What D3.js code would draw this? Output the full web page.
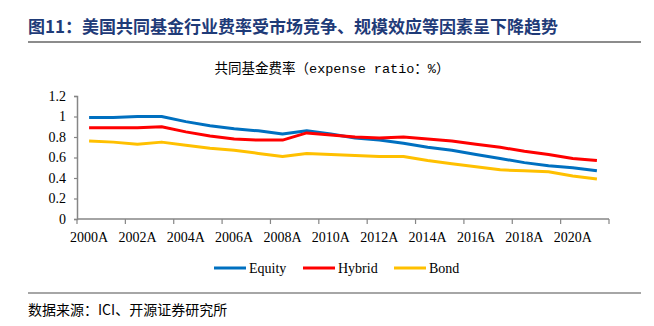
<!DOCTYPE html>
<html>
<head>
<meta charset="utf-8">
<script src="https://cdn.jsdelivr.net/npm/d3@7"></script>
<style>
  body { margin: 0; background: #fff; }
  svg { display: block; }
</style>
</head>
<body>
<svg id="chart" width="654" height="326"></svg>
<script>
// annual expense ratios (%), 2000-2021
const years = d3.range(2000, 2022).map(y => y + "A");
const equity = [0.99, 0.99, 1.00, 1.00, 0.95, 0.91, 0.88, 0.86, 0.83, 0.86, 0.83, 0.79, 0.77, 0.74, 0.70, 0.67, 0.63, 0.59, 0.55, 0.52, 0.50, 0.47];
const hybrid = [0.89, 0.89, 0.89, 0.90, 0.85, 0.81, 0.78, 0.77, 0.77, 0.84, 0.82, 0.80, 0.79, 0.80, 0.78, 0.76, 0.73, 0.70, 0.66, 0.63, 0.59, 0.57];
const bond   = [0.76, 0.75, 0.73, 0.75, 0.72, 0.69, 0.67, 0.64, 0.61, 0.64, 0.63, 0.62, 0.61, 0.61, 0.57, 0.54, 0.51, 0.48, 0.47, 0.46, 0.42, 0.39];
const yTicks = [0, 0.2, 0.4, 0.6, 0.8, 1, 1.2];

const series = [
  { name: "Equity", values: equity, color: "#0070C0" },
  { name: "Hybrid", values: hybrid, color: "#FF0000" },
  { name: "Bond",   values: bond,   color: "#FFC000" }
];

const svg = d3.select("#chart");
const serif = "'Liberation Serif', 'Times New Roman', serif";
const cjk = "'Noto Sans CJK SC', sans-serif";

// header
svg.append("text")
  .attr("x", 28).attr("y", 33)
  .attr("font-family", cjk)
  .attr("font-weight", "bold")
  .attr("font-size", 17)
  .attr("fill", "#1F3B78")
  .text("图11：美国共同基金行业费率受市场竞争、规模效应等因素呈下降趋势");

svg.append("line")
  .attr("x1", 28).attr("x2", 641).attr("y1", 42).attr("y2", 42)
  .attr("stroke", "#666").attr("stroke-width", 1.5);

svg.append("text")
  .attr("x", 332).attr("y", 73)
  .attr("text-anchor", "middle")
  .attr("font-family", "'Liberation Mono', 'DejaVu Sans Mono', " + cjk)
  .attr("font-size", 13.5)
  .attr("fill", "#000")
  .text("共同基金费率（expense ratio：%）");

// plot area
const x = d3.scaleBand().domain(years).range([77, 609]);
const y = d3.scaleLinear().domain([0, 1.2]).range([219, 96]);

const gx = svg.append("g").attr("transform", "translate(0,219)");
gx.append("line")
  .attr("x1", 77).attr("x2", 609)
  .attr("stroke", "#868686").attr("stroke-width", 1.5);
// tick marks on band boundaries every two years
gx.selectAll(".tk")
  .data(years.filter((d, i) => i % 2 === 0).concat(["end"]))
  .join("line")
  .attr("x1", d => d === "end" ? x.range()[1] : x(d))
  .attr("x2", d => d === "end" ? x.range()[1] : x(d))
  .attr("y1", 0).attr("y2", 5)
  .attr("stroke", "#868686").attr("stroke-width", 1.2);
gx.selectAll(".lbl")
  .data(years.filter((d, i) => i % 2 === 0))
  .join("text")
  .attr("x", d => x(d) + x.bandwidth() / 2)
  .attr("y", 23)
  .attr("text-anchor", "middle")
  .attr("font-family", serif)
  .attr("font-size", 14)
  .attr("fill", "#000")
  .text(d => d);

const gy = svg.append("g").attr("transform", "translate(77,0)")
  .call(d3.axisLeft(y).tickValues(yTicks).tickSize(3).tickPadding(8).tickFormat(d => d3.format("")(d)));
gy.select(".domain").attr("stroke", "#868686").attr("stroke-width", 1.5);
gy.selectAll(".tick line").attr("stroke", "#868686").attr("stroke-width", 1.2);
gy.selectAll("text")
  .attr("font-family", serif)
  .attr("font-size", 14)
  .attr("fill", "#000");

// series lines
const line = d3.line()
  .x((d, i) => x(years[i]) + x.bandwidth() / 2)
  .y(d => y(d));

svg.selectAll(".series")
  .data(series)
  .join("path")
  .attr("fill", "none")
  .attr("stroke", d => d.color)
  .attr("stroke-width", 3)
  .attr("stroke-linejoin", "round")
  .attr("d", d => line(d.values));

// legend
const legendX = [214, 303, 394];
const lg = svg.selectAll(".legend")
  .data(series)
  .join("g")
  .attr("transform", (d, i) => `translate(${legendX[i]},268)`);
lg.append("line")
  .attr("x1", 0).attr("x2", 32)
  .attr("stroke", d => d.color).attr("stroke-width", 3);
lg.append("text")
  .attr("x", 35).attr("y", 5)
  .attr("font-family", serif)
  .attr("font-size", 14)
  .attr("fill", "#000")
  .text(d => d.name);

// footer
svg.append("line")
  .attr("x1", 28).attr("x2", 641).attr("y1", 293).attr("y2", 293)
  .attr("stroke", "#888").attr("stroke-width", 1.5);

svg.append("text")
  .attr("x", 28).attr("y", 315)
  .attr("font-family", cjk)
  .attr("font-size", 14)
  .attr("fill", "#000")
  .text("数据来源：ICI、开源证券研究所");
</script>
</body>
</html>
